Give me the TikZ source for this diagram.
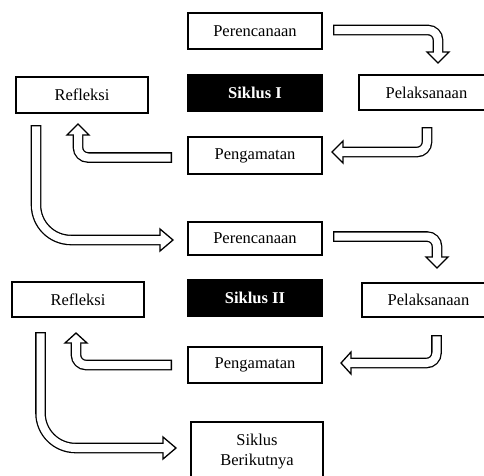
\documentclass[tikz,border=0pt]{standalone}
\usepackage{fontspec}
\setmainfont{Liberation Serif}
\usetikzlibrary{calc}
\newcommand\blockarrow[4]{%
  \draw[black, line width=10.6pt, rounded corners=#1] #2;
  \filldraw[fill=white, draw=black, line width=1.3pt, line join=miter]
    ($(#3)!11pt!90:(#4)$) -- (#4) -- ($(#3)!11pt!-90:(#4)$) -- cycle;
  \draw[white, line width=8pt, rounded corners=#1, shorten <=1.3pt, shorten >=-2pt] #2;
}
\tikzset{
  box/.style={draw, line width=1.6pt, minimum width=134pt, minimum height=36pt,
    inner sep=0pt, font=\fontsize{16.5}{20}\selectfont},
  sbox/.style={box, fill=black, text=white, font=\fontsize{16.5}{20}\selectfont\bfseries}
}
\begin{document}
\begin{tikzpicture}[x=1pt,y=-1pt]
\useasboundingbox (0,0) rectangle (484,475);
% boxes
\node[box] (p1) at (255,31) {Perencanaan};
\node[sbox] (s1) at (255,93) {Siklus I};
\node[box, minimum width=135pt, minimum height=35pt] (l1) at (426.5,92.5) {Pelaksanaan};
\node[box, minimum height=37pt] (g1) at (255,155.5) {Pengamatan};
\node[box, minimum width=132pt] (r1) at (82,95) {Refleksi};
\node[box, minimum height=33pt] (p2) at (255,238.5) {Perencanaan};
\node[sbox] (s2) at (255,298) {Siklus II};
\node[box, minimum width=133pt, minimum height=34pt] (l2) at (428.5,300) {Pelaksanaan};
\node[box] (g2) at (255,365) {Pengamatan};
\node[box, minimum width=132pt, minimum height=35pt] (r2) at (78,299.5) {Refleksi};
\node[box, minimum width=132pt, minimum height=60pt, align=center] (b) at (257,452) {Siklus\\Berikutnya};
% arrow points
\coordinate (a1s) at (333,30);   \coordinate (a1c) at (438,30);
\coordinate (a1b) at (438,52);   \coordinate (a1t) at (438,63);
\coordinate (a2s) at (427,127);  \coordinate (a2c) at (427,152);
\coordinate (a2b) at (343,152);  \coordinate (a2t) at (332,152);
\coordinate (a3s) at (172,157.5);\coordinate (a3c) at (78,157.5);
\coordinate (a3b) at (78,135);   \coordinate (a3t) at (78,124);
\coordinate (a4s) at (36,125);   \coordinate (a4c) at (36,240);
\coordinate (a4b) at (160,240);  \coordinate (a4t) at (173,240);
\coordinate (a5s) at (333,236.5);\coordinate (a5c) at (437,236.5);
\coordinate (a5b) at (437,257);  \coordinate (a5t) at (437,268);
\coordinate (a6s) at (436.5,335);\coordinate (a6c) at (436.5,363);
\coordinate (a6b) at (351,363);  \coordinate (a6t) at (341,363);
\coordinate (a7s) at (172,365);  \coordinate (a7c) at (76,365);
\coordinate (a7b) at (76,343);   \coordinate (a7t) at (76,333);
\coordinate (a8s) at (40.5,332); \coordinate (a8c) at (40.5,448);
\coordinate (a8b) at (163,448);  \coordinate (a8t) at (176,448);
% block arrows
\blockarrow{10pt}{(a1s) -- (a1c) -- (a1b)}{a1b}{a1t}
\blockarrow{10pt}{(a2s) -- (a2c) -- (a2b)}{a2b}{a2t}
\blockarrow{10pt}{(a3s) -- (a3c) -- (a3b)}{a3b}{a3t}
\blockarrow{35pt}{(a4s) -- (a4c) -- (a4b)}{a4b}{a4t}
\blockarrow{10pt}{(a5s) -- (a5c) -- (a5b)}{a5b}{a5t}
\blockarrow{10pt}{(a6s) -- (a6c) -- (a6b)}{a6b}{a6t}
\blockarrow{10pt}{(a7s) -- (a7c) -- (a7b)}{a7b}{a7t}
\blockarrow{35pt}{(a8s) -- (a8c) -- (a8b)}{a8b}{a8t}
\end{tikzpicture}
\end{document}
